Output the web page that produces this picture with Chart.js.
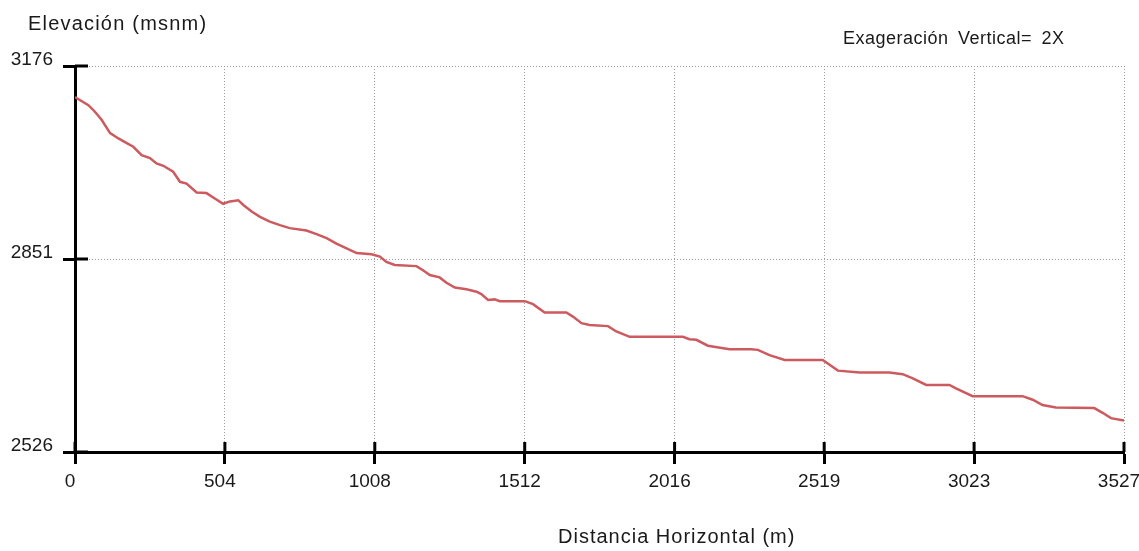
<!DOCTYPE html>
<html>
<head>
<meta charset="utf-8">
<script src="https://cdn.jsdelivr.net/npm/chart.js@4/dist/chart.umd.min.js"></script>
<style>
  body { margin: 0; background: #fff; }
  #wrap { position: relative; width: 1139px; height: 551px; }
  .lbl { position: absolute; font-family: "Liberation Sans", Arial, sans-serif; color: #1a1a1a; line-height: 1; white-space: nowrap; }
</style>
</head>
<body>
<div id="wrap">
  <canvas id="perfil" width="1139" height="551"></canvas>
  <div class="lbl" style="left:28px; top:13px; font-size:20px; letter-spacing:1.2px;">Elevación (msnm)</div>
  <div class="lbl" style="left:843px; top:29px; font-size:18px; letter-spacing:0.5px; word-spacing:4px;">Exageración Vertical= 2X</div>
  <div class="lbl" style="left:558px; top:526px; font-size:20px; letter-spacing:1px;">Distancia Horizontal (m)</div>
</div>
<script>
// Perfil: distancia horizontal (m) y elevacion (msnm)
const distancias = [0, 5, 45, 67, 90, 118, 146, 174, 196, 224, 252, 274, 297, 330, 353, 375, 409, 442, 470, 498,
  521, 549, 566, 594, 622, 655, 689, 722, 778, 812, 846, 879, 913, 947, 997, 1025, 1047, 1075, 1148, 1170,
  1193, 1226, 1249, 1277, 1316, 1350, 1366, 1389, 1411, 1428, 1512, 1540, 1579, 1652, 1674, 1703, 1730, 1792,
  1820, 1865, 2044, 2066, 2089, 2128, 2201, 2274, 2296, 2335, 2386, 2514, 2531, 2565, 2638, 2738, 2783, 2817,
  2862, 2940, 2962, 3018, 3186, 3220, 3253, 3298, 3427, 3455, 3483, 3527];
const elevaciones = [3124, 3122, 3110, 3099, 3085, 3063, 3054, 3046, 3040, 3026, 3021, 3012, 3008, 2998, 2981, 2978, 2963, 2962, 2953, 2944,
  2948, 2950, 2942, 2931, 2922, 2914, 2908, 2903, 2899, 2893, 2886, 2877, 2869, 2861, 2859, 2855, 2846, 2841, 2839, 2832,
  2824, 2820, 2811, 2803, 2800, 2796, 2792, 2782, 2783, 2780, 2780, 2775, 2761, 2761, 2754, 2743, 2740, 2738,
  2729, 2720, 2720, 2716, 2715, 2705, 2699, 2699, 2698, 2689, 2681, 2681, 2675, 2663, 2660, 2660, 2657, 2650,
  2639, 2639, 2633, 2620, 2620, 2614, 2605, 2601, 2600, 2592, 2583, 2579];

const ticksX = [0, 504, 1008, 1512, 2016, 2519, 3023, 3527];
const ticksY = [2526, 2851, 3176];

const fuente = "'Liberation Sans', Arial, sans-serif";

// marcas de los ejes que entran en el area del grafico
const marcasInternas = {
  id: 'marcasInternas',
  afterDraw(chart) {
    const { ctx, chartArea, scales: { x, y } } = chart;
    ctx.save();
    ctx.strokeStyle = '#000';
    ctx.lineWidth = 3;
    ctx.beginPath();
    x.ticks.forEach(t => {
      const px = x.getPixelForValue(t.value);
      ctx.moveTo(px, chartArea.bottom - 10);
      ctx.lineTo(px, chartArea.bottom);
    });
    y.ticks.forEach(t => {
      const py = y.getPixelForValue(t.value);
      ctx.moveTo(chartArea.left, py);
      ctx.lineTo(chartArea.left + 13, py);
    });
    ctx.stroke();
    ctx.restore();
  }
};

new Chart(document.getElementById('perfil'), {
  type: 'line',
  data: {
    datasets: [{
      data: distancias.map((d, i) => ({ x: d, y: elevaciones[i] })),
      borderColor: '#cc5a5e',
      borderWidth: 2.5,
      pointRadius: 0,
      tension: 0
    }]
  },
  options: {
    responsive: false,
    animation: false,
    layout: { padding: { left: 0, right: 15, top: 66, bottom: 0 } },
    plugins: { legend: { display: false }, tooltip: { enabled: false } },
    scales: {
      x: {
        type: 'linear', min: 0, max: 3527,
        afterBuildTicks: s => { s.ticks = ticksX.map(v => ({ value: v })); },
        afterFit: s => { s.height = 99; s.paddingLeft = 0; s.paddingRight = 0; },
        grid: { color: '#9c9c9c', lineWidth: 1, tickLength: 12, tickColor: '#000', tickWidth: 3, tickBorderDash: [1, 0] },
        border: { color: '#000', width: 3, dash: [1, 2] },
        ticks: { font: { family: fuente, size: 19 }, color: '#1a1a1a', padding: 6, labelOffset: -5, maxRotation: 0, autoSkip: false,
          callback: v => String(v) }
      },
      y: {
        type: 'linear', min: 2526, max: 3176,
        afterBuildTicks: s => { s.ticks = ticksY.map(v => ({ value: v })); },
        afterFit: s => { s.width = 75; s.paddingTop = 0; s.paddingBottom = 0; },
        grid: { color: '#9c9c9c', lineWidth: 1, tickLength: 12, tickColor: '#000', tickWidth: 3, tickBorderDash: [1, 0] },
        border: { color: '#000', width: 3, dash: [1, 2] },
        ticks: { font: { family: fuente, size: 19 }, color: '#1a1a1a', padding: 10, labelOffset: -6, autoSkip: false,
          callback: v => String(v) }
      }
    }
  },
  plugins: [marcasInternas]
});
</script>
</body>
</html>
